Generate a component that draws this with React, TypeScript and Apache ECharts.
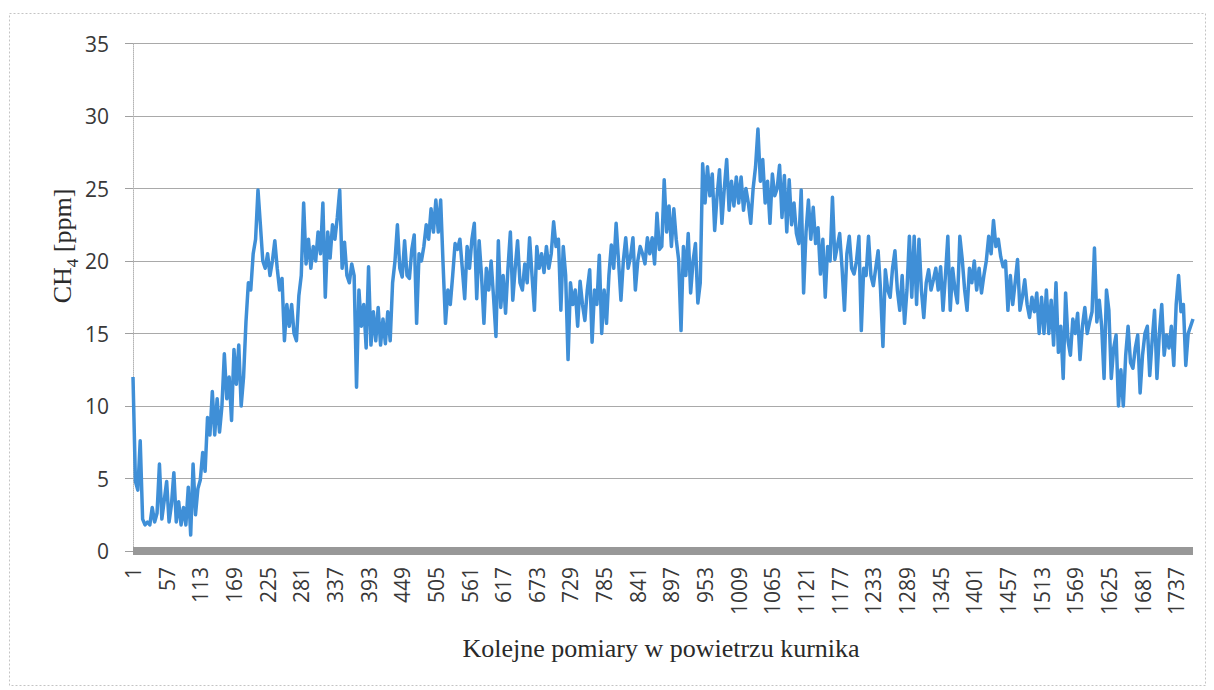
import React, { useEffect, useRef } from "react";
import * as echarts from "echarts";

// CH4 concentration [ppm], one reading every 4th measurement (1, 5, 9, ... 1765)
const CH4: number[] = [
  // 1 - 53
  12.0, 4.8, 4.2, 7.6, 2.2, 1.8, 2.0, 1.8, 3.0, 2.0, 2.6, 6.0, 2.2, 3.5,
  // 57 - 109
  4.8, 2.0, 3.2, 5.4, 2.0, 3.4, 1.8, 3.0, 1.8, 4.4, 1.1, 6.0, 2.5, 4.3,
  // 113 - 165
  4.9, 6.8, 5.5, 9.2, 8.0, 11.0, 8.0, 10.5, 8.2, 10.0, 13.6, 10.5, 12.0, 9.0,
  // 169 - 221
  13.9, 11.5, 14.2, 10.0, 12.0, 15.8, 18.5, 18.0, 20.5, 21.5, 24.9, 22.5, 20.0, 19.5,
  // 225 - 277
  20.5, 19.0, 20.0, 21.4, 19.5, 18.0, 18.8, 14.5, 17.0, 15.5, 17.0, 15.0, 14.5, 17.6,
  // 281 - 333
  19.0, 24.0, 19.8, 21.5, 19.5, 21.0, 20.0, 22.0, 20.5, 24.0, 17.5, 22.0, 20.2, 22.5,
  // 337 - 389
  21.5, 23.0, 24.9, 19.5, 21.3, 19.0, 18.5, 19.8, 19.0, 11.3, 18.0, 15.5, 17.0, 14.0,
  // 393 - 445
  19.6, 14.2, 16.5, 14.5, 16.8, 14.2, 16.0, 14.3, 16.5, 14.5, 18.5, 20.0, 22.5, 19.5,
  // 449 - 501
  18.9, 21.4, 19.0, 18.8, 20.8, 21.8, 15.7, 20.5, 20.0, 21.0, 22.5, 21.5, 23.6, 22.0,
  // 505 - 557
  24.2, 22.0, 24.2, 19.8, 15.7, 18.0, 17.0, 19.0, 21.2, 20.8, 21.5, 19.5, 17.4, 21.0,
  // 561 - 613
  19.5, 21.5, 22.6, 17.4, 21.4, 19.0, 15.7, 19.5, 18.0, 20.0, 17.5, 14.8, 21.4, 16.8,
  // 617 - 669
  19.0, 16.4, 19.5, 22.0, 17.3, 19.5, 21.4, 18.5, 18.0, 19.8, 18.5, 21.6, 19.0, 16.6,
  // 673 - 725
  21.0, 19.5, 20.5, 19.2, 21.0, 19.5, 20.5, 22.7, 21.0, 21.5, 16.6, 21.0, 19.0, 13.2,
  // 729 - 781
  18.5, 17.0, 18.0, 15.5, 18.6, 17.0, 15.9, 18.0, 19.4, 14.4, 18.0, 17.0, 20.4, 15.0,
  // 785 - 837
  18.0, 15.7, 19.0, 21.1, 19.5, 22.6, 20.0, 17.3, 20.0, 21.6, 19.5, 20.3, 21.6, 18.0,
  // 841 - 893
  20.0, 21.0, 20.5, 19.8, 21.6, 20.5, 21.6, 19.8, 23.3, 20.8, 21.0, 25.6, 22.0, 23.8,
  // 897 - 949
  21.0, 23.6, 21.5, 20.1, 15.2, 21.0, 19.0, 21.9, 17.8, 20.0, 21.2, 17.1, 18.5, 26.7,
  // 953 - 1005
  24.0, 26.5, 24.5, 26.0, 22.1, 24.5, 26.3, 22.6, 25.0, 27.0, 23.5, 25.5, 23.8, 25.8,
  // 1009 - 1061
  24.0, 25.8, 23.5, 25.0, 24.0, 22.6, 25.0, 26.5, 29.1, 25.5, 27.0, 24.0, 25.5, 22.6,
  // 1065 - 1117
  26.0, 24.5, 25.0, 26.6, 23.0, 25.9, 22.0, 25.6, 22.5, 24.0, 21.9, 21.2, 24.9, 17.8,
  // 1121 - 1173
  22.0, 24.2, 21.5, 23.7, 21.2, 22.3, 19.1, 21.5, 17.5, 21.0, 20.0, 24.4, 20.1, 21.0,
  // 1177 - 1229
  21.9, 19.5, 16.6, 20.5, 21.7, 19.5, 19.1, 20.0, 21.7, 15.2, 19.5, 19.0, 21.7, 19.0,
  // 1233 - 1285
  18.3, 19.5, 20.7, 18.0, 14.1, 19.4, 18.0, 17.5, 19.5, 20.7, 18.0, 16.6, 19.0, 15.7,
  // 1289 - 1341
  18.0, 21.7, 17.5, 21.7, 17.0, 21.5, 18.0, 16.1, 18.5, 19.4, 18.0, 18.7, 19.5, 18.0,
  // 1345 - 1397
  19.6, 16.6, 19.0, 21.7, 16.6, 19.5, 18.0, 17.1, 21.7, 20.1, 18.0, 16.6, 19.5, 18.5,
  // 1401 - 1453
  20.0, 18.0, 19.5, 17.8, 19.0, 20.0, 21.7, 20.5, 22.8, 21.0, 21.5, 20.3, 19.6, 20.0,
  // 1457 - 1509
  16.6, 19.0, 17.0, 18.5, 20.1, 16.6, 17.5, 18.7, 17.0, 16.1, 17.5, 16.5, 17.8, 15.0,
  // 1513 - 1565
  17.5, 15.0, 18.0, 15.0, 17.3, 14.2, 18.5, 13.7, 15.5, 11.9, 17.8, 14.5, 13.5, 16.0,
  // 1569 - 1621
  15.0, 16.4, 13.2, 15.5, 16.8, 15.0, 15.8, 16.5, 20.9, 15.8, 17.3, 15.5, 11.9, 18.0,
  // 1625 - 1677
  16.6, 11.9, 14.0, 14.9, 10.0, 12.5, 10.0, 13.5, 15.5, 13.0, 12.6, 14.0, 14.9, 10.9,
  // 1681 - 1733
  13.5, 15.0, 15.5, 12.1, 14.5, 16.6, 11.9, 15.0, 17.0, 13.5, 14.9, 14.0, 15.5, 12.8,
  // 1737 - 1765
  17.0, 19.0, 16.5, 17.0, 12.8, 15.0, 15.5, 16.0,
];

const FIRST_MEASUREMENT = 1;
const MEASUREMENT_STEP = 4;
const MEASUREMENTS: string[] = CH4.map((_, i) => String(FIRST_MEASUREMENT + i * MEASUREMENT_STEP));

const Y_MIN = 0;
const Y_MAX = 35;
const Y_STEP = 5;

const X_TITLE = "Kolejne pomiary w powietrzu kurnika";

export default function App() {
  const ref = useRef<HTMLDivElement>(null);

  useEffect(() => {
    if (!ref.current) return;
    const chart = echarts.init(ref.current, undefined, { renderer: "svg" });
    chart.setOption({
      animation: false,
      backgroundColor: "#ffffff",
      grid: { left: 133, right: 21, top: 43.5, bottom: 139, containLabel: false },
      xAxis: {
        type: "category",
        boundaryGap: false,
        data: MEASUREMENTS,
        offset: 4,
        axisLine: { show: true, lineStyle: { color: "#989898", width: 8, cap: "butt" } },
        axisTick: { show: false },
        axisLabel: {
          interval: 13,
          rotate: 90,
          margin: 12,
          fontSize: 21,
          fontFamily: "Open Sans",
          color: "#383838",
        },
        splitLine: { show: false },
      },
      yAxis: {
        type: "value",
        min: Y_MIN,
        max: Y_MAX,
        interval: Y_STEP,
        axisLine: { show: true, lineStyle: { color: "#b4b4b4", width: 1, type: "dotted" } },
        axisTick: { show: true, length: 8, lineStyle: { color: "#a0a0a0" } },
        axisLabel: {
          margin: 24,
          fontSize: 21,
          fontFamily: "Open Sans",
          color: "#383838",
        },
        splitLine: { show: true, lineStyle: { color: "#a9a9a9", width: 1 } },
      },
      graphic: [
        {
          type: "rect",
          silent: true,
          shape: { x: 9.5, y: 13.5, width: 1196, height: 672 },
          style: { fill: "none", stroke: "#c4c4c4", lineWidth: 1, lineDash: [2, 2] },
        },
        {
          type: "text",
          x: 60,
          y: 246,
          rotation: Math.PI / 2,
          style: {
            text: "{n|CH}{s|4}{n| [ppm]}",
            align: "center",
            verticalAlign: "middle",
            fill: "#2a2a2a",
            rich: {
              n: { fontSize: 26, fontFamily: "Liberation Serif", fill: "#2a2a2a", lineHeight: 30, verticalAlign: "bottom" },
              s: { fontSize: 17, fontFamily: "Liberation Serif", fill: "#2a2a2a", lineHeight: 30, verticalAlign: "bottom", padding: [0, 0, -6, 0] },
            },
          },
        },
        {
          type: "text",
          x: 661,
          y: 648,
          style: {
            text: X_TITLE,
            align: "center",
            verticalAlign: "middle",
            fontSize: 26,
            fontFamily: "Liberation Serif",
            fill: "#2a2a2a",
          },
        },
      ],
      series: [
        {
          type: "line",
          data: CH4,
          symbol: "none",
          lineStyle: { color: "#3f8fd7", width: 3.5, join: "round" },
          z: 3,
        },
      ],
    });
    return () => chart.dispose();
  }, []);

  return (
    <div
      ref={ref}
      style={{ position: "fixed", left: 0, top: 0, width: 1214, height: 690 }}
    />
  );
}
